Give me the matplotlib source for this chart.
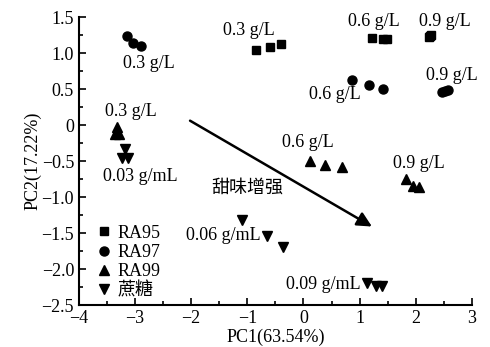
import matplotlib
matplotlib.use('Agg')
import matplotlib.pyplot as plt
from matplotlib.ticker import MultipleLocator, FuncFormatter

plt.rcParams['font.family'] = ['Liberation Serif', 'Noto Sans CJK SC']
plt.rcParams['axes.unicode_minus'] = True

# PCA scores
ra95_x = [-0.85, -0.60, -0.40, 1.22, 1.42, 1.49, 2.23, 2.27, 2.25]
ra95_y = [1.04, 1.08, 1.12, 1.21, 1.20, 1.19, 1.22, 1.25, 1.24]
ra97_x = [-3.15, -3.03, -2.90, 0.86, 1.16, 1.41, 2.47, 2.52, 2.58]
ra97_y = [1.24, 1.14, 1.10, 0.62, 0.55, 0.50, 0.46, 0.47, 0.48]
ra99_x = [-3.32, -3.36, -3.28, 0.12, 0.39, 0.68, 1.83, 1.95, 2.05]
ra99_y = [-0.03, -0.12, -0.13, -0.50, -0.56, -0.59, -0.75, -0.85, -0.86]
sucrose_x = [-3.18, -3.23, -3.12, -1.09, -0.65, -0.36, 1.14, 1.29, 1.40]
sucrose_y = [-0.33, -0.46, -0.46, -1.32, -1.54, -1.69, -2.19, -2.24, -2.24]

labels = ['0.3 g/L', '0.3 g/L', '0.6 g/L', '0.9 g/L', '0.6 g/L', '0.9 g/L',
          '0.3 g/L', '0.6 g/L', '0.9 g/L', '0.03 g/mL', '0.06 g/mL', '0.09 g/mL']
label_x = [-2.75, -0.97, 1.26, 2.52, 0.56, 2.65, -3.07, 0.07, 2.06, -2.91, -1.43, 0.35]
label_y = [0.86, 1.31, 1.44, 1.44, 0.42, 0.69, 0.19, -0.24, -0.53, -0.72, -1.53, -2.22]

fig = plt.figure(figsize=(4.9, 3.47), dpi=100)
ax = fig.add_axes([0.161, 0.121, 0.802, 0.830])

ms = 6.5
ax.plot(ra95_x, ra95_y, 's', color='black', ms=6.3, label='RA95')
ax.plot(ra97_x, ra97_y, 'o', color='black', ms=ms, label='RA97')
ax.plot(ra99_x, ra99_y, '^', color='black', ms=7.5, label='RA99')
ax.plot(sucrose_x, sucrose_y, 'v', color='black', ms=7.5, label='蔗糖')

for t, x, y in zip(labels, label_x, label_y):
    ax.text(x, y, t, ha='center', va='center', fontsize=13)

ax.annotate('', xy=(1.22, -1.41), xytext=(-2.02, 0.06),
            arrowprops=dict(arrowstyle='-|>', color='black', lw=1.8,
                            mutation_scale=22, shrinkA=0, shrinkB=0))
ax.text(-1.0, -0.88, '甜味增强', ha='center', va='center', fontsize=13)

ax.set_xlim(-4, 3)
ax.set_ylim(-2.5, 1.5)
ax.xaxis.set_major_locator(MultipleLocator(1))
ax.xaxis.set_minor_locator(MultipleLocator(0.5))
ax.yaxis.set_major_locator(MultipleLocator(0.5))
ax.yaxis.set_minor_locator(MultipleLocator(0.25))
ax.yaxis.set_major_formatter(FuncFormatter(
    lambda v, p: '0' if abs(v) < 1e-9 else f'{v:.1f}'.replace('-', '\u2212')))
ax.xaxis.set_major_formatter(FuncFormatter(
    lambda v, p: f'{v:.0f}'.replace('-', '\u2212')))
ax.tick_params(which='both', direction='in', labelsize=13, width=1.2)
ax.tick_params(which='major', length=5)
ax.tick_params(which='minor', length=3)
ax.spines['top'].set_visible(False)
ax.spines['right'].set_visible(False)
for s in ['left', 'bottom']:
    ax.spines[s].set_linewidth(1.5)

ax.set_xlabel('PC1(63.54%)', fontsize=13, labelpad=1)
ax.set_ylabel('PC2(17.22%)', fontsize=13, labelpad=0)

ax.legend(loc='lower left', bbox_to_anchor=(0.033, 0.0), frameon=False,
          fontsize=13, handlelength=0.8, handletextpad=0.3, labelspacing=0.12,
          borderaxespad=0.1, borderpad=0.2)

fig.savefig('out.png', dpi=100)
